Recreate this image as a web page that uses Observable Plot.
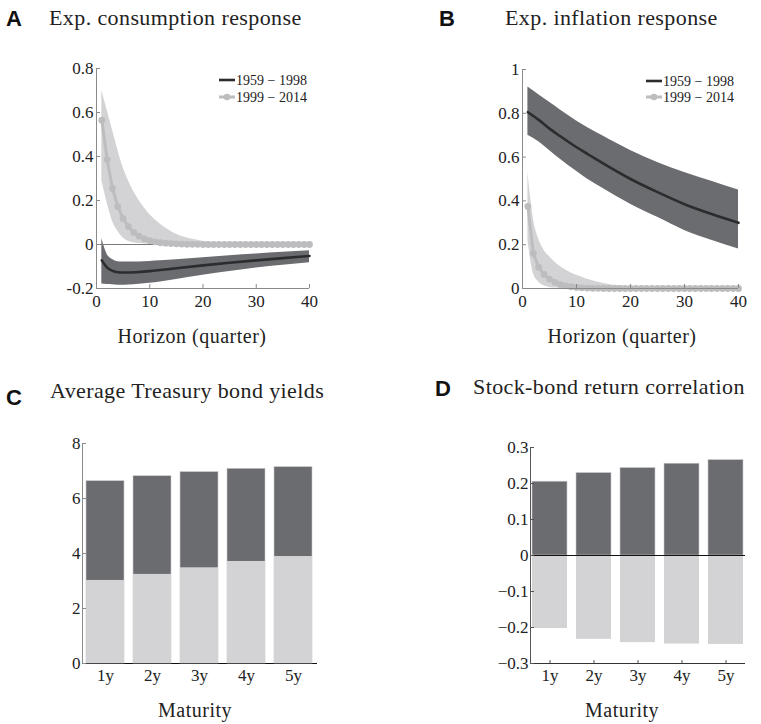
<!DOCTYPE html>
<html>
<head>
<meta charset="utf-8">
<script src="https://cdn.jsdelivr.net/npm/d3@7"></script>
<script src="https://cdn.jsdelivr.net/npm/@observablehq/plot@0.6"></script>
<style>
  html, body { margin: 0; padding: 0; background: #fff; }
  #fig { position: relative; width: 761px; height: 724px; overflow: hidden; }
  .panel { position: absolute; }
  #overlay { position: absolute; left: 0; top: 0; pointer-events: none; }
  .letter { font-family: "Liberation Sans", Arial, Helvetica, sans-serif; font-weight: bold; font-size: 22px; fill: #111; }
  .title { font-family: "Liberation Serif", "Times New Roman", Times, Tinos, "DejaVu Serif", serif; font-size: 22px; letter-spacing: 0.4px; fill: #222; }
  .axlab { font-family: "Liberation Serif", "Times New Roman", Times, Tinos, "DejaVu Serif", serif; font-size: 20px; letter-spacing: 0.5px; fill: #222; text-anchor: middle; }
  .leg { font-family: "Liberation Serif", "Times New Roman", Times, Tinos, "DejaVu Serif", serif; font-size: 14px; fill: #222; }
</style>
</head>
<body>
<div id="fig"></div>
<script>
// ---------------- DATA ----------------
const xTicks = [0, 10, 20, 30, 40];
const yTicksA = [-0.2, 0, 0.2, 0.4, 0.6, 0.8];
const yTicksB = [0, 0.2, 0.4, 0.6, 0.8, 1];
const yTicksC = [0, 2, 4, 6, 8];
const yTicksD = [-0.3, -0.2, -0.1, 0, 0.1, 0.2, 0.3];
const seriesNames = ["1959 \u2212 1998", "1999 \u2212 2014"];

// Panel A: expected consumption response
const consDarkH   = [1, 2, 3, 4, 5, 6, 8, 10, 12, 15, 20, 25, 30, 35, 40];
const consDarkMid = [-0.072, -0.105, -0.12, -0.126, -0.127, -0.127, -0.125, -0.121, -0.116, -0.108, -0.095, -0.083, -0.072, -0.062, -0.052];
const consDarkHi  = [0.027, -0.045, -0.068, -0.078, -0.08, -0.08, -0.079, -0.077, -0.074, -0.069, -0.06, -0.051, -0.043, -0.035, -0.028];
const consDarkLo  = [-0.18, -0.182, -0.183, -0.185, -0.185, -0.184, -0.181, -0.176, -0.17, -0.159, -0.14, -0.123, -0.107, -0.094, -0.083];

const consLightBandH = [1, 2, 3, 4, 5, 6, 7, 8, 10, 12, 15, 18, 20, 25, 30, 40];
const consLightHi = [0.70, 0.61, 0.52, 0.43, 0.35, 0.29, 0.24, 0.20, 0.136, 0.092, 0.047, 0.024, 0.015, 0.004, 0.001, 0];
const consLightLo = [0.29, 0.19, 0.106, 0.06, 0.03, 0.015, 0.008, 0.005, 0.001, 0, 0, 0, 0, 0, 0, 0];

const horizons = d3.range(1, 41);
const consLightMid = [0.565, 0.386, 0.255, 0.172, 0.118, 0.081, 0.055, 0.038, 0.026, 0.018,
  0.012, 0.008, 0.006, 0.004, 0.003, 0.002, 0.001, 0.001, 0.001, 0,
  0, 0, 0, 0, 0, 0, 0, 0, 0, 0,
  0, 0, 0, 0, 0, 0, 0, 0, 0, 0];

// Panel B: expected inflation response
const inflDarkH   = [1, 3, 5, 7, 10, 12, 15, 20, 25, 30, 35, 40];
const inflDarkMid = [0.805, 0.77, 0.73, 0.695, 0.645, 0.615, 0.57, 0.50, 0.44, 0.385, 0.34, 0.30];
const inflDarkHi  = [0.92, 0.885, 0.85, 0.815, 0.765, 0.735, 0.695, 0.63, 0.575, 0.53, 0.49, 0.45];
const inflDarkLo  = [0.70, 0.67, 0.63, 0.59, 0.535, 0.50, 0.455, 0.385, 0.325, 0.265, 0.22, 0.18];

const inflLightBandH = [1, 2, 3, 4, 5, 6, 8, 10, 12, 15, 18, 20, 25, 30, 40];
const inflLightHi = [0.53, 0.32, 0.225, 0.175, 0.145, 0.12, 0.085, 0.06, 0.042, 0.023, 0.012, 0.008, 0.002, 0, 0];
const inflLightLo = [0.22, 0.07, 0.03, 0.012, 0.005, 0.002, 0, 0, 0, 0, 0, 0, 0, 0, 0];
const inflLightMid = [0.375, 0.16, 0.097, 0.064, 0.043, 0.028, 0.018, 0.012, 0.008, 0.005,
  0.003, 0.002, 0.001, 0.001, 0, 0, 0, 0, 0, 0,
  0, 0, 0, 0, 0, 0, 0, 0, 0, 0,
  0, 0, 0, 0, 0, 0, 0, 0, 0, 0];

// Panel C: average Treasury bond yields
const maturities = ["1y", "2y", "3y", "4y", "5y"];
const yieldsEarly = [6.63, 6.81, 6.96, 7.08, 7.14];
const yieldsLate  = [3.02, 3.24, 3.48, 3.71, 3.89];

// Panel D: stock-bond return correlation
const corrEarly = [0.205, 0.229, 0.243, 0.255, 0.265];
const corrLate  = [-0.203, -0.233, -0.242, -0.246, -0.247];

// ---------------- STYLE ----------------
const darkBand = "#6b6c70", darkLine = "#2c2c2e", lightBand = "#d3d3d5", lightLine = "#bdbdbf";
const axisGray = "#8a8a8a";
const serifStack = "'Liberation Serif', 'Times New Roman', Times, Tinos, 'DejaVu Serif', serif";
const baseStyle = {fontFamily: serifStack, fontSize: "17px", color: "#222", background: "transparent", overflow: "visible"};

const zipBand = (h, lo, hi) => h.map((x, i) => ({h: x, lo: lo[i], hi: hi[i]}));
const zipLine = (h, v) => h.map((x, i) => ({h: x, v: v[i]}));
const fmtHyphen = d => String(d);
const fmtMinus = d => d < 0 ? "\u2212" + String(-d) : String(d);

const fig = document.getElementById("fig");
function place(svg, left, top) {
  const div = document.createElement("div");
  div.className = "panel";
  div.style.left = left + "px";
  div.style.top = top + "px";
  div.appendChild(svg);
  fig.appendChild(div);
}

// ---------------- PANEL A ----------------
const plotA = Plot.plot({
  width: 380, height: 268, marginLeft: 96, marginRight: 71, marginTop: 18, marginBottom: 30,
  x: {domain: [0, 40]},
  y: {domain: [-0.2, 0.8]},
  style: baseStyle,
  marks: [
    Plot.areaY(zipBand(consDarkH, consDarkLo, consDarkHi), {x: "h", y1: "lo", y2: "hi", fill: darkBand, curve: "monotone-x"}),
    Plot.areaY(zipBand(consLightBandH, consLightLo, consLightHi), {x: "h", y1: "lo", y2: "hi", fill: lightBand, curve: "monotone-x"}),
    Plot.ruleY([0], {stroke: "#7a7a7a", strokeWidth: 1.2}),
    Plot.line(zipLine(horizons, consLightMid), {x: "h", y: "v", stroke: lightLine, strokeWidth: 3}),
    Plot.dot(zipLine(horizons, consLightMid), {x: "h", y: "v", r: 3.4, fill: lightLine}),
    Plot.line(zipLine(consDarkH, consDarkMid), {x: "h", y: "v", stroke: darkLine, strokeWidth: 2.6, curve: "monotone-x"}),
    Plot.ruleX([0], {stroke: axisGray}),
    Plot.ruleY([-0.2], {stroke: axisGray}),
    Plot.axisY({ticks: yTicksA, tickSize: -4, tickPadding: 7, stroke: axisGray, tickFormat: fmtHyphen, label: null}),
    Plot.axisX({ticks: xTicks, tickSize: -4, tickPadding: 10, stroke: axisGray, tickFormat: fmtHyphen, label: null})
  ]
});
place(plotA, 0, 50);

// ---------------- PANEL B ----------------
const plotB = Plot.plot({
  width: 381, height: 268, marginLeft: 142, marginRight: 23, marginTop: 19, marginBottom: 30,
  x: {domain: [0, 40]},
  y: {domain: [0, 1]},
  style: baseStyle,
  marks: [
    Plot.areaY(zipBand(inflDarkH, inflDarkLo, inflDarkHi), {x: "h", y1: "lo", y2: "hi", fill: darkBand, curve: "monotone-x"}),
    Plot.areaY(zipBand(inflLightBandH, inflLightLo, inflLightHi), {x: "h", y1: "lo", y2: "hi", fill: lightBand, curve: "monotone-x"}),
    Plot.line(zipLine(horizons, inflLightMid), {x: "h", y: "v", stroke: lightLine, strokeWidth: 3}),
    Plot.dot(zipLine(horizons, inflLightMid), {x: "h", y: "v", r: 3.4, fill: lightLine}),
    Plot.line(zipLine(inflDarkH, inflDarkMid), {x: "h", y: "v", stroke: darkLine, strokeWidth: 2.6, curve: "monotone-x"}),
    Plot.ruleX([0], {stroke: axisGray}),
    Plot.ruleY([0], {stroke: axisGray}),
    Plot.axisY({ticks: yTicksB, tickSize: -4, tickPadding: 7, stroke: axisGray, tickFormat: fmtHyphen, label: null}),
    Plot.axisX({ticks: xTicks, tickSize: -4, tickPadding: 10, stroke: axisGray, tickFormat: fmtHyphen, label: null})
  ]
});
place(plotB, 380, 50);

// ---------------- PANEL C ----------------
const barsC = maturities.map((m, i) => ({m, early: yieldsEarly[i], late: yieldsLate[i]}));
const plotC = Plot.plot({
  width: 380, height: 263, marginLeft: 82, marginRight: 63, marginTop: 13, marginBottom: 30,
  x: {domain: maturities, paddingInner: 0.19, paddingOuter: 0.09},
  y: {domain: [0, 8]},
  style: baseStyle,
  marks: [
    Plot.ruleY([0], {stroke: "#111", strokeWidth: 1.2}),
    Plot.barY(barsC, {x: "m", y: "early", fill: darkBand, stroke: "#c9c9cb", strokeWidth: 0.6}),
    Plot.barY(barsC, {x: "m", y: "late", fill: lightBand}),
    Plot.axisY({ticks: yTicksC, tickSize: -4, tickPadding: 6, stroke: axisGray, tickFormat: fmtHyphen, label: null}),
    Plot.axisX({tickSize: 0, tickPadding: 5, label: null}),
    Plot.frame({anchor: "left", stroke: axisGray})
  ]
});
place(plotC, 0, 430);

// ---------------- PANEL D ----------------
const barsD = maturities.map((m, i) => ({m, early: corrEarly[i], late: corrLate[i]}));
const plotD = Plot.plot({
  width: 381, height: 263, marginLeft: 150, marginRight: 16, marginTop: 17, marginBottom: 30,
  x: {domain: maturities, paddingInner: 0.2, paddingOuter: 0.04},
  y: {domain: [-0.3, 0.3]},
  style: baseStyle,
  marks: [
    Plot.barY(barsD, {x: "m", y: "early", fill: darkBand, stroke: "#c9c9cb", strokeWidth: 0.6}),
    Plot.barY(barsD, {x: "m", y: "late", fill: lightBand}),
    Plot.ruleY([0], {stroke: "#111", strokeWidth: 1.2}),
    Plot.ruleY([-0.3], {stroke: "#333", strokeWidth: 1.2}),
    Plot.axisY({ticks: yTicksD, tickSize: -4, tickPadding: 6, stroke: "#555", tickFormat: fmtMinus, label: null}),
    Plot.axisX({tickSize: -3, tickPadding: 8, stroke: "#555", label: null}),
    Plot.frame({anchor: "left", stroke: "#555"})
  ]
});
place(plotD, 380, 430);

// ---------------- TITLES, LABELS, LEGENDS ----------------
const ns = "http://www.w3.org/2000/svg";
const ov = document.createElementNS(ns, "svg");
ov.setAttribute("id", "overlay");
ov.setAttribute("width", 761);
ov.setAttribute("height", 724);
fig.appendChild(ov);
function txt(x, y, s, cls) {
  const t = document.createElementNS(ns, "text");
  t.setAttribute("x", x); t.setAttribute("y", y);
  t.setAttribute("class", cls);
  t.textContent = s;
  ov.appendChild(t);
}
function seg(x1, y1, x2, y2, stroke, w) {
  const l = document.createElementNS(ns, "line");
  l.setAttribute("x1", x1); l.setAttribute("y1", y1);
  l.setAttribute("x2", x2); l.setAttribute("y2", y2);
  l.setAttribute("stroke", stroke); l.setAttribute("stroke-width", w);
  ov.appendChild(l);
}
function circ(cx, cy, r, fill) {
  const c = document.createElementNS(ns, "circle");
  c.setAttribute("cx", cx); c.setAttribute("cy", cy); c.setAttribute("r", r);
  c.setAttribute("fill", fill);
  ov.appendChild(c);
}

txt(6, 26, "A", "letter");
txt(49, 25, "Exp. consumption response", "title");
txt(439, 26, "B", "letter");
txt(505, 25, "Exp. inflation response", "title");
txt(6, 405, "C", "letter");
txt(50, 398, "Average Treasury bond yields", "title");
txt(435, 396, "D", "letter");
txt(473, 394, "Stock-bond return correlation", "title");

txt(192, 343, "Horizon (quarter)", "axlab");
txt(622, 343, "Horizon (quarter)", "axlab");
txt(195, 717, "Maturity", "axlab");
txt(622, 717, "Maturity", "axlab");

function legend(x0, x1, y0, dy) {
  seg(x0, y0, x1, y0, darkLine, 2.6);
  txt(x1 + 1, y0 + 4.5, seriesNames[0], "leg");
  seg(x0, y0 + dy, x1, y0 + dy, lightLine, 3);
  circ((x0 + x1) / 2, y0 + dy, 3.3, lightLine);
  txt(x1 + 1, y0 + dy + 4.5, seriesNames[1], "leg");
}
legend(219, 235, 80, 17);
legend(646, 662, 81, 16);
</script>
</body>
</html>
